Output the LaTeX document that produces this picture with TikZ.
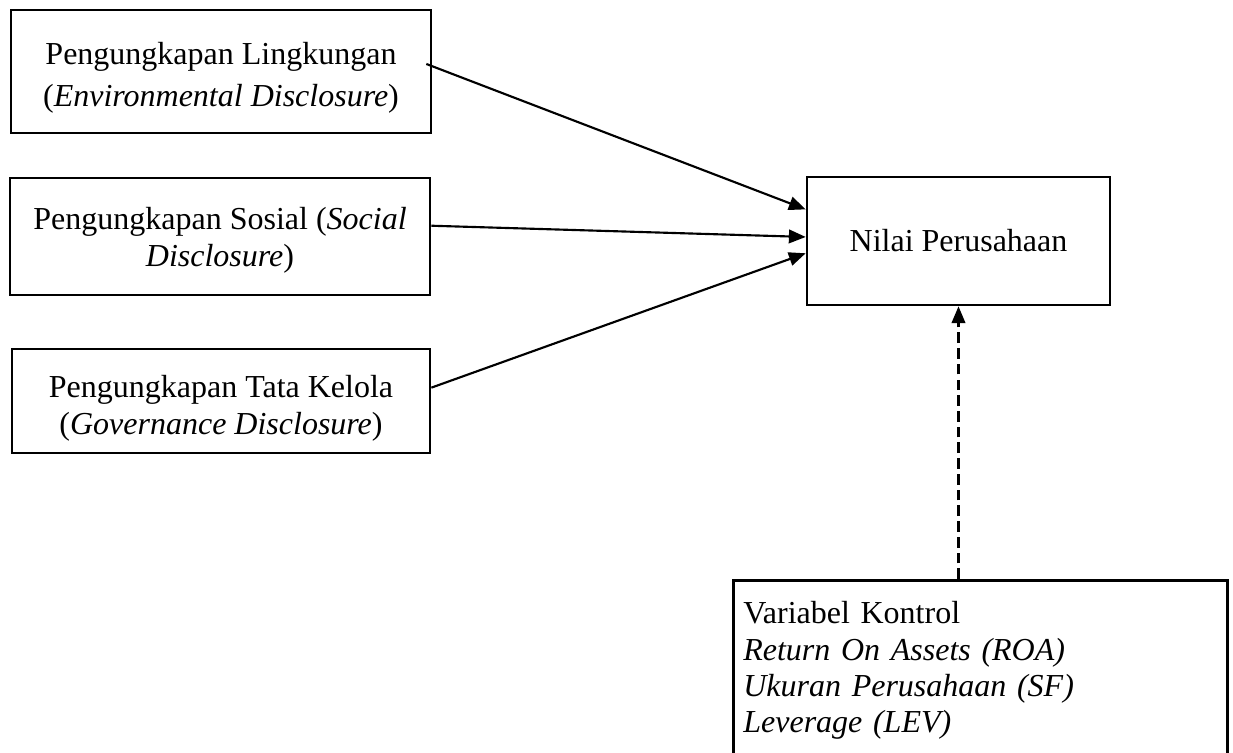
\documentclass[tikz,border=0pt]{standalone}
\usepackage{fontspec}
\setmainfont{Liberation Serif}
\usetikzlibrary{arrows.meta,calc}
\begin{document}
\begin{tikzpicture}[x=0.375pt,y=-0.375pt,
  box/.style={draw, line width=1pt, inner sep=0pt, align=center, font=\fontsize{12}{13.9}\selectfont},
  arr/.style={line width=0.8pt, -{Triangle[length=6.3pt,width=5.1pt]}},
  ]
\clip (0,0) rectangle (1233,753);
\fill[white] (0,0) rectangle (1233,753);

\node[box, minimum width=157.5pt, minimum height=46.1pt, font=\fontsize{12}{15.5}\selectfont] (b1) at (221,71.5)
  {\rule{0pt}{13pt}Pengungkapan Lingkungan\\(\textit{Environmental Disclosure})};
\node[box, minimum width=157.5pt, minimum height=43.9pt] (b2) at (220,236.5)
  {\rule{0pt}{11.5pt}Pengungkapan Sosial (\textit{Social}\\\textit{Disclosure})};
\node[box, minimum width=156.75pt, minimum height=39pt] (b3) at (221,401)
  {\rule{0pt}{13.5pt}Pengungkapan Tata Kelola\\(\textit{Governance Disclosure})};
\node[box, minimum width=113.6pt, minimum height=48pt] (nilai) at (958.5,241)
  {Nilai Perusahaan};
\node[box, anchor=north west, align=left, inner xsep=3.75pt, inner ysep=8pt,
      text width=177.75pt, font=\fontsize{12}{13.6}\selectfont] (kontrol) at (732,579)
  {Variabel Kontrol\\\textit{Return On Assets (ROA)}\\\textit{Ukuran Perusahaan (SF)}\\\textit{Leverage (LEV)}};

\draw[arr] ($(b1.north east)!0.44!(b1.south east)+(-6,0)$) -- ($(nilai.north west)!0.258!(nilai.south west)$);
\draw[arr] ($(b2.north east)!0.41!(b2.south east)$) -- ($(nilai.north west)!0.469!(nilai.south west)$);
\draw[arr] ($(b3.north east)!0.375!(b3.south east)$) -- ($(nilai.north west)!0.594!(nilai.south west)$);
\draw[arr, dash pattern=on 4pt off 1.9pt] (nilai.south |- kontrol.north) -- (nilai.south);
\end{tikzpicture}
\end{document}
